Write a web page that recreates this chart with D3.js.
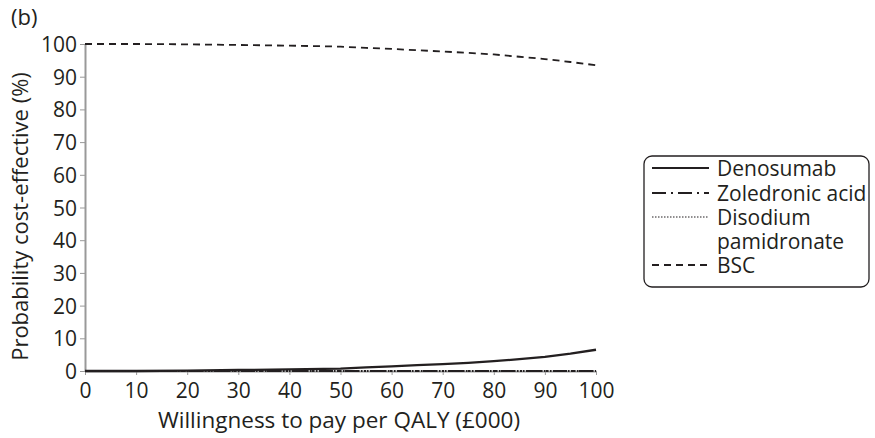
<!DOCTYPE html>
<html>
<head>
<meta charset="utf-8">
<script src="https://cdn.jsdelivr.net/npm/d3@7"></script>
<style>
  body { margin: 0; background: #fff; }
  svg text { font-family: "Open Sans", "Noto Sans", sans-serif; fill: #231f20; }
</style>
</head>
<body>
<div id="chart"></div>
<script>
// willingness to pay (£000)
const wtp = [0, 10, 20, 30, 40, 50, 55, 60, 65, 70, 75, 80, 85, 90, 95, 100];
const denosumab = [0, 0, 0.1, 0.3, 0.5, 0.7, 1.1, 1.4, 1.8, 2.1, 2.5, 3.0, 3.6, 4.3, 5.3, 6.5];
const zoledronic = [0, 0, 0, 0, 0, 0, 0, 0, 0, 0, 0, 0, 0, 0, 0, 0];
const disodium = [0, 0, 0, 0, 0, 0, 0, 0, 0, 0, 0, 0, 0, 0, 0, 0];
const bsc = [100, 100, 99.9, 99.7, 99.5, 99.2, 98.8, 98.5, 98.1, 97.7, 97.3, 96.8, 96.1, 95.4, 94.5, 93.5];

const seriesNames = ["Denosumab", "Zoledronic acid", "Disodium pamidronate", "BSC"];
const seriesDash = ["none", "14,5,2,5", "1.5,1.5", "7,5"];
const xTicks = [0, 10, 20, 30, 40, 50, 60, 70, 80, 90, 100];
const yTicks = [0, 10, 20, 30, 40, 50, 60, 70, 80, 90, 100];

const width = 875, height = 438;
const fontSize = "21px";
const svg = d3.select("#chart").append("svg")
  .attr("width", width)
  .attr("height", height);

const x = d3.scaleLinear().domain([0, 100]).range([85, 596]);
const y = d3.scaleLinear().domain([0, 100]).range([371, 44]);

// axes
let xAxis = svg.append("g")
  .attr("transform", "translate(0," + y(0) + ")")
  .call(d3.axisBottom(x).tickValues(xTicks).tickSize(4).tickPadding(5).tickSizeOuter(0));
let yAxis = svg.append("g")
  .attr("transform", "translate(" + x(0) + ",0)")
  .call(d3.axisLeft(y).tickValues(yTicks).tickSize(5).tickPadding(3).tickSizeOuter(0));

[xAxis, yAxis].forEach(a => {
  a.select(".domain").attr("stroke", "#999").attr("stroke-width", 2);
  a.selectAll(".tick line").attr("stroke", "#999").attr("stroke-width", 1);
  a.selectAll(".tick text").style("font-size", fontSize).attr("fill", "#231f20");
});
xAxis.selectAll(".tick text").attr("dy", "0.85em");
yAxis.selectAll(".tick text").attr("dy", "0.36em");

// lines
const allSeries = [denosumab, zoledronic, disodium, bsc];
const line = d3.line().x((d, i) => x(wtp[i])).y(d => y(d));
allSeries.forEach((s, i) => {
  svg.append("path")
    .datum(s)
    .attr("d", line)
    .attr("fill", "none")
    .attr("stroke", "#231f20")
    .attr("stroke-width", i == 0 ? 2.3 : 1.8)
    .attr("stroke-dasharray", seriesDash[i]);
});

// titles
svg.append("text").text("(b)")
  .attr("x", 11).attr("y", 25)
  .style("font-size", "22px");

svg.append("text").text("Willingness to pay per QALY (£000)")
  .attr("x", 339).attr("y", 428)
  .attr("text-anchor", "middle")
  .style("font-size", "22.5px");

svg.append("text").text("Probability cost-effective (%)")
  .attr("transform", "translate(28," + ((y(0) + y(100)) / 2 + 9) + ") rotate(-90)")
  .attr("text-anchor", "middle")
  .style("font-size", "22px");

// legend
let legend = svg.append("g");
legend.append("rect")
  .attr("x", 644).attr("y", 156)
  .attr("width", 225).attr("height", 131)
  .attr("rx", 8)
  .attr("fill", "#fff")
  .attr("stroke", "#231f20")
  .attr("stroke-width", 1.3);

const legendRows = [168, 193, 217, 265];
seriesNames.forEach((name, i) => {
  let ly = legendRows[i];
  legend.append("line")
    .attr("x1", 652).attr("x2", 709)
    .attr("y1", ly).attr("y2", ly)
    .attr("stroke", "#231f20")
    .attr("stroke-width", i == 2 ? 1.2 : 1.8)
    .attr("stroke-dasharray", seriesDash[i]);
  if (i == 2) {
    legend.append("text").text("Disodium")
      .attr("x", 717).attr("y", ly).attr("dy", "0.36em")
      .style("font-size", fontSize);
    legend.append("text").text("pamidronate")
      .attr("x", 717).attr("y", ly + 24).attr("dy", "0.36em")
      .style("font-size", fontSize);
  } else {
    legend.append("text").text(name)
      .attr("x", 717).attr("y", ly).attr("dy", "0.36em")
      .style("font-size", fontSize);
  }
});
</script>
</body>
</html>
